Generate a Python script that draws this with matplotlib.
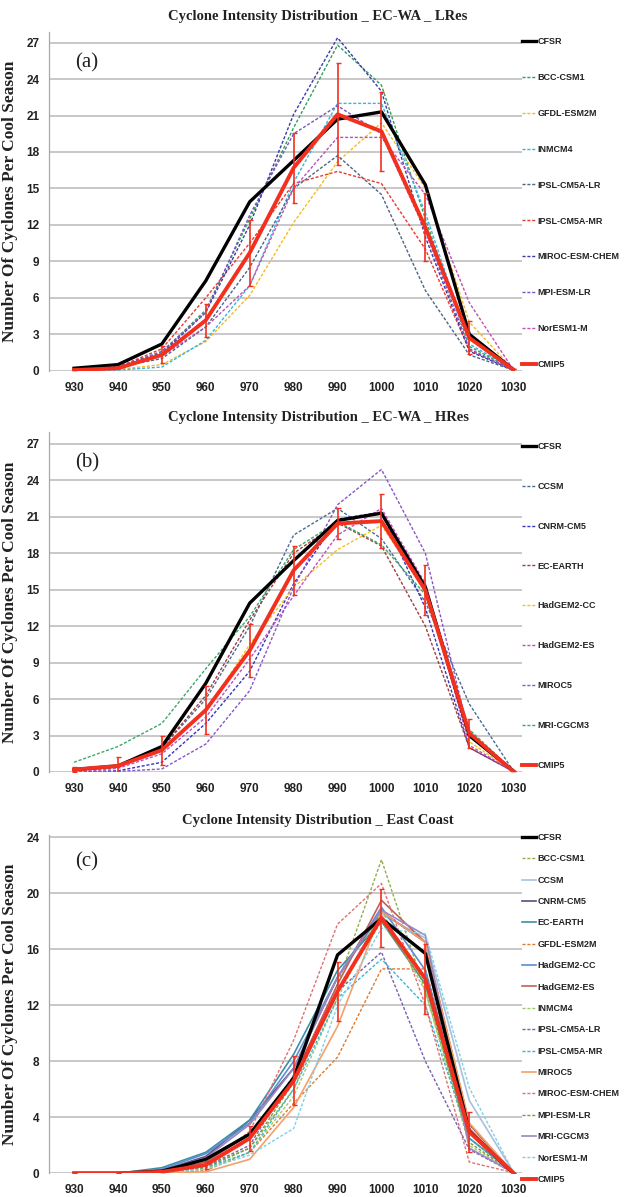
import matplotlib
matplotlib.use("Agg")
import matplotlib.pyplot as plt
import numpy as np

# ---- data -------------------------------------------------------------
pressure = [930, 940, 950, 960, 970, 980, 990, 1000, 1010, 1020, 1030]

# panel (a): EC-WA, low resolution models
a_cfsr = [0.2, 0.5, 2.2, 7.4, 13.9, 17.3, 20.7, 21.3, 15.3, 3.0, 0.1]
a_cmip5 = [0.05, 0.2, 1.3, 4.15, 9.7, 16.7, 21.1, 19.7, 11.8, 2.7, 0.1]
a_cmip5_err = [0.0, 0.0, 0.7, 1.35, 2.7, 2.9, 4.2, 3.25, 2.8, 1.35, 0.0]
a_models = ["BCC-CSM1", "GFDL-ESM2M", "INMCM4", "IPSL-CM5A-LR", "IPSL-CM5A-MR",
            "MIROC-ESM-CHEM", "MPI-ESM-LR", "NorESM1-M"]
a_values = [
    [0.1, 0.3, 1.5, 5.0, 12.5, 20.0, 26.8, 23.5, 12.5, 2.0, 0.1],
    [0.0, 0.1, 0.5, 2.4, 6.2, 12.2, 17.2, 20.4, 15.0, 4.0, 0.1],
    [0.0, 0.05, 0.3, 2.5, 7.0, 15.5, 22.0, 22.0, 13.0, 2.2, 0.1],
    [0.1, 0.3, 1.0, 3.6, 8.5, 15.0, 17.7, 14.5, 6.6, 1.3, 0.05],
    [0.1, 0.3, 1.8, 6.0, 10.5, 15.4, 16.4, 15.4, 10.0, 1.7, 0.05],
    [0.1, 0.3, 1.4, 4.8, 12.0, 21.1, 27.4, 23.0, 11.0, 1.6, 0.05],
    [0.1, 0.3, 1.6, 4.8, 12.8, 19.5, 21.8, 19.5, 11.5, 1.8, 0.05],
    [0.1, 0.2, 1.2, 3.6, 7.0, 15.0, 19.2, 19.2, 14.5, 5.6, 0.1],
]
a_colors = ["#2e9e5b", "#f7b924", "#33b5e5", "#4b6584", "#e8392f",
            "#3a3aa8", "#7b52c4", "#c04fb5"]

# panel (b): EC-WA, high resolution models
b_cfsr = [0.2, 0.5, 2.1, 7.3, 13.9, 17.4, 20.7, 21.3, 15.2, 3.0, 0.1]
b_cmip5 = [0.2, 0.5, 1.8, 5.1, 10.0, 16.6, 20.45, 20.65, 14.95, 3.2, 0.05]
b_cmip5_err = [0.2, 0.75, 1.2, 2.0, 2.15, 2.0, 1.25, 2.25, 2.05, 1.2, 0.0]
b_models = ["CCSM", "CNRM-CM5", "EC-EARTH", "HadGEM2-CC", "HadGEM2-ES",
            "MIROC5", "MRI-CGCM3"]
b_values = [
    [0.1, 0.4, 2.0, 6.0, 12.0, 19.5, 21.7, 19.2, 14.0, 5.6, 0.1],
    [0.0, 0.1, 0.8, 4.0, 8.3, 15.5, 20.8, 21.4, 13.5, 2.0, 0.05],
    [0.1, 0.4, 2.0, 6.3, 12.5, 18.0, 20.5, 18.6, 12.0, 2.0, 0.05],
    [0.1, 0.4, 2.0, 5.0, 10.5, 15.2, 18.3, 20.3, 15.0, 2.5, 0.05],
    [0.0, 0.3, 1.5, 4.5, 9.3, 14.5, 19.5, 21.7, 15.5, 2.2, 0.05],
    [0.0, 0.05, 0.25, 2.3, 6.7, 15.2, 22.0, 24.9, 18.0, 3.0, 0.05],
    [0.8, 2.1, 4.0, 8.5, 12.8, 18.3, 20.6, 18.7, 14.6, 3.5, 0.1],
]
b_colors = ["#4a6b94", "#3434c4", "#a03c3c", "#f7c21a", "#c24fc0",
            "#8a55c8", "#3aa86a"]

# panel (c): East Coast, all models
c_cfsr = [0.0, 0.0, 0.15, 1.0, 2.8, 6.8, 15.6, 18.2, 15.7, 3.0, 0.0]
c_cmip5 = [0.0, 0.0, 0.1, 0.6, 2.5, 6.6, 13.0, 18.25, 13.9, 2.95, 0.05]
c_cmip5_err = [0.0, 0.0, 0.0, 0.3, 0.9, 1.75, 2.1, 2.05, 2.5, 1.45, 0.0]
c_models = ["BCC-CSM1", "CCSM", "CNRM-CM5", "EC-EARTH", "GFDL-ESM2M",
            "HadGEM2-CC", "HadGEM2-ES", "INMCM4", "IPSL-CM5A-LR",
            "IPSL-CM5A-MR", "MIROC5", "MIROC-ESM-CHEM", "MPI-ESM-LR",
            "MRI-CGCM3", "NorESM1-M"]
c_values = [
    [0.0, 0.0, 0.1, 0.5, 1.8, 6.0, 13.5, 22.4, 13.0, 2.5, 0.05],
    [0.0, 0.0, 0.2, 1.2, 3.5, 7.5, 14.0, 18.5, 16.8, 5.2, 0.1],
    [0.0, 0.0, 0.2, 1.2, 3.8, 7.5, 14.0, 18.7, 16.5, 3.5, 0.05],
    [0.0, 0.0, 0.4, 1.5, 3.8, 8.5, 14.5, 18.0, 13.5, 2.5, 0.05],
    [0.0, 0.0, 0.0, 0.2, 1.5, 5.0, 8.3, 14.6, 14.6, 3.5, 0.05],
    [0.0, 0.0, 0.3, 1.4, 3.6, 8.0, 14.0, 19.0, 14.5, 3.0, 0.05],
    [0.0, 0.0, 0.1, 0.8, 2.8, 6.8, 13.5, 19.5, 16.5, 3.2, 0.05],
    [0.0, 0.0, 0.05, 0.3, 1.5, 5.5, 12.5, 18.8, 13.0, 2.0, 0.05],
    [0.0, 0.0, 0.1, 0.5, 2.0, 7.0, 13.0, 15.8, 8.0, 1.7, 0.05],
    [0.0, 0.0, 0.05, 0.4, 1.5, 6.0, 12.5, 15.3, 12.0, 2.5, 0.05],
    [0.0, 0.0, 0.05, 0.1, 1.0, 4.7, 10.5, 18.7, 16.5, 3.6, 0.05],
    [0.0, 0.0, 0.1, 0.6, 3.0, 9.5, 17.8, 20.7, 12.0, 0.8, 0.05],
    [0.0, 0.0, 0.1, 0.4, 1.8, 6.5, 13.0, 18.0, 13.5, 2.2, 0.05],
    [0.0, 0.0, 0.2, 1.1, 3.5, 7.5, 14.0, 18.8, 17.0, 1.8, 0.05],
    [0.0, 0.0, 0.05, 0.3, 1.3, 3.2, 12.0, 17.5, 17.1, 6.1, 0.1],
]
c_colors = ["#8fb04a", "#a9c0dc", "#5f4a80", "#3f8fa3", "#e07b2e",
            "#5b8ed0", "#c0605c", "#9ccc65", "#7a5fb0", "#3cb4d0",
            "#f5a06a", "#e07070", "#7a9a40", "#9c88c0", "#7fd0e8"]
c_solid = [False, True, True, True, False, True, True, False, False,
           False, True, False, False, True, False]

# ---- layout (pixels of the 626x1197 figure) ---------------------------
W, H = 626, 1197
DASH = (0, (2.2, 1.3))
SANS = ["Liberation Sans", "DejaVu Sans"]
TEXT = "#222222"
RED = "#f2301f"

fig = plt.figure(figsize=(W / 100, H / 100), dpi=100)


def px_axes(left, right, top, bottom):
    return fig.add_axes([left / W, 1 - bottom / H, (right - left) / W, (bottom - top) / H])


def draw_panel(ax, title, title_y, tag, tag_y, cfsr, cmip5, err, models, values,
               colors, solid, ytop, yticks, leg_y0, leg_ls):
    for name, vals, col, sol in zip(models, values, colors, solid):
        ax.plot(pressure, vals, color=col, lw=1.2 if sol else 1.0,
                ls="-" if sol else DASH, label=name, zorder=2)
    ax.plot(pressure, cfsr, color="black", lw=2.4, label="CFSR", zorder=4)
    ax.errorbar(pressure, cmip5, yerr=err, fmt="none", ecolor=RED,
                elinewidth=1.2, capsize=1.8, capthick=1.0, zorder=5)
    ax.plot(pressure, cmip5, color=RED, lw=2.8, label="CMIP5", zorder=6)

    ax.set_xlim(924.3, 1032.0)
    ax.set_ylim(0, ytop)
    ax.set_xticks(pressure)
    ax.set_yticks(yticks)
    ax.grid(axis="y", color="#c4c4c4", lw=1.3)
    ax.set_axisbelow(True)
    for s in ["top", "right", "bottom"]:
        ax.spines[s].set_visible(False)
    ax.spines["left"].set_color("#a8a8a8")
    ax.spines["left"].set_linewidth(0.9)
    ax.tick_params(length=0)
    ax.tick_params(axis="x", pad=8)
    ax.tick_params(axis="y", pad=7)
    for lab in ax.get_xticklabels() + ax.get_yticklabels():
        lab.set_family(SANS)
        lab.set_fontsize(8.5)
        lab.set_fontweight("bold")
        lab.set_color(TEXT)

    ax.set_ylabel("Number Of Cyclones Per Cool Season", family="Liberation Serif",
                  fontsize=12.5, fontweight="bold", color=TEXT)
    ax.yaxis.set_label_coords(-0.066, 0.5)
    ax.text(0.055, tag_y, tag, transform=ax.transAxes, family="Liberation Serif",
            fontsize=15, va="center", ha="left", color=TEXT)
    fig.text(318 / W, 1 - title_y / H, title, family="Liberation Serif",
             fontsize=10.5, fontweight="bold", ha="center", va="center", color=TEXT)

    handles, labels = ax.get_legend_handles_labels()
    order = [labels.index("CFSR")] + [labels.index(m) for m in models] + [labels.index("CMIP5")]
    leg = ax.legend([handles[i] for i in order], [labels[i] for i in order],
                    loc="upper left", bbox_to_anchor=(522 / W, 1 - leg_y0 / H),
                    bbox_transform=fig.transFigure, frameon=False,
                    borderpad=0, borderaxespad=0, handlelength=1.5,
                    handletextpad=0.25, labelspacing=leg_ls,
                    prop={"family": SANS, "size": 6.5, "weight": "bold"})
    for t in leg.get_texts():
        t.set_color(TEXT)


ax_a = px_axes(49, 522, 31.7, 370.7)
draw_panel(ax_a, "Cyclone Intensity Distribution _ EC-WA _ LRes", 16.7, "(a)", 0.908,
           a_cfsr, a_cmip5, a_cmip5_err, a_models, a_values, a_colors,
           [False] * len(a_models), 27.9, np.arange(0, 28, 3), 37, 2.98)

ax_b = px_axes(49, 522, 431.8, 772)
draw_panel(ax_b, "Cyclone Intensity Distribution _ EC-WA _ HRes", 418, "(b)", 0.908,
           b_cfsr, b_cmip5, b_cmip5_err, b_models, b_values, b_colors,
           [False] * len(b_models), 28.0, np.arange(0, 28, 3), 442, 3.42)

ax_c = px_axes(49, 522, 835.2, 1173.3)
draw_panel(ax_c, "Cyclone Intensity Distribution _ East Coast", 820.7, "(c)", 0.92,
           c_cfsr, c_cmip5, c_cmip5_err, c_models, c_values, c_colors,
           c_solid, 24.15, np.arange(0, 25, 4), 833, 1.37)

fig.savefig("out.png", dpi=100)
